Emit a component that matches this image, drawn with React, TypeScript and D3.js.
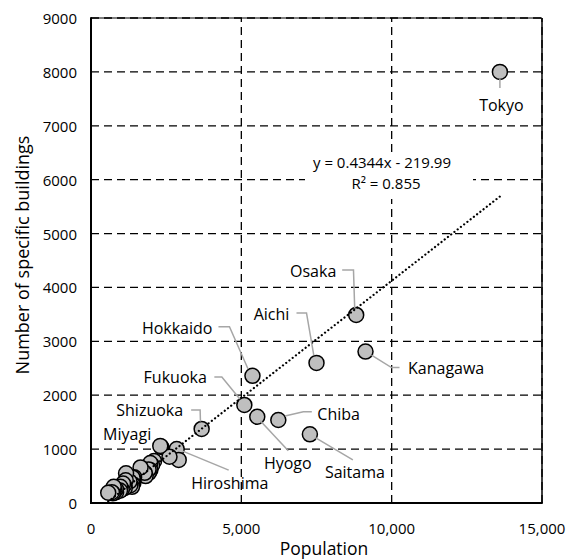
import React from "react";
import * as d3 from "d3";

// ---- data (population in thousands, number of specific buildings) ----
const names = [
  "Tokyo", "Osaka", "Aichi", "Kanagawa", "Hokkaido", "Fukuoka", "Hyogo", "Chiba", "Saitama", "Shizuoka", "Hiroshima", "Miyagi",
  "Ibaraki", "Kyoto", "Niigata", "Nagano", "Gifu", "Tochigi", "Gunma", "Okayama", "Fukushima", "Mie", "Kumamoto", "Kagoshima",
  "Okinawa", "Shiga", "Yamaguchi", "Ehime", "Nagasaki", "Nara", "Aomori", "Iwate", "Oita", "Ishikawa", "Yamagata", "Miyazaki",
  "Toyama", "Akita", "Kagawa", "Wakayama", "Yamanashi", "Saga", "Fukui", "Tokushima", "Kochi", "Shimane", "Tottori",
];
const population = [
  13600, 8820, 7500, 9130, 5370, 5100, 5530, 6230, 7280, 3680, 2850, 2334,
  2917, 2610, 2304, 2099, 2032, 1974, 1973, 1922, 1914, 1816, 1786, 1648,
  1434, 1413, 1405, 1385, 1377, 1364, 1308, 1280, 1166, 1154, 1124, 1104,
  1066, 1023, 976, 964, 835, 833, 787, 756, 728, 694, 573,
];
const buildings = [
  8000, 3490, 2600, 2810, 2360, 1820, 1600, 1540, 1275, 1375, 1000, 1040,
  800, 860, 1060, 780, 700, 740, 610, 560, 620, 500, 560, 660,
  480, 380, 430, 470, 350, 300, 330, 400, 550, 420, 280, 330,
  360, 250, 300, 230, 200, 260, 220, 300, 180, 200, 190,
];
const xTicks = [0, 5000, 10000, 15000];
const yTicks = [0, 1000, 2000, 3000, 4000, 5000, 6000, 7000, 8000, 9000];
const slope = 0.4344;
const intercept = -219.99;
const equationLines = ["y = 0.4344x - 219.99", "R² = 0.855"];
const xTitle = "Population";
const yTitle = "Number of specific buildings";

// ---- label layout (offsets from the point, in px) ----
type Lab = { name: string; anchor: "start" | "middle" | "end"; dx: number; dy: number; leader: [number, number][] };
const labelLayout: Lab[] = [
  { name: "Tokyo", anchor: "middle", dx: 1.5, dy: 33, leader: [[0, 7], [0, 16]] },
  { name: "Osaka", anchor: "middle", dx: -43, dy: -43.5, leader: [[-14, -45], [-2.7, -45], [-1.5, -7]] },
  { name: "Aichi", anchor: "middle", dx: -45, dy: -48.5, leader: [[-20, -50], [-10, -50], [-2.7, -7.5]] },
  { name: "Kanagawa", anchor: "start", dx: 42.5, dy: 16.5, leader: [[34, 16], [26, 16], [6, 3.5]] },
  { name: "Hokkaido", anchor: "end", dx: -40, dy: -48, leader: [[-34, -49], [-23, -49], [-4.5, -7]] },
  { name: "Fukuoka", anchor: "end", dx: -37.5, dy: -27.5, leader: [[-30, -28], [-22.5, -28], [-4.5, -6]] },
  { name: "Shizuoka", anchor: "end", dx: -18.5, dy: -19, leader: [[-10.5, -19], [-1.5, -19], [-1.2, -7.5]] },
  { name: "Miyagi", anchor: "end", dx: -10, dy: -13, leader: [] },
  { name: "Hiroshima", anchor: "start", dx: 14.5, dy: 34, leader: [[6, 2], [52, 21]] },
  { name: "Hyogo", anchor: "middle", dx: 30.5, dy: 46.5, leader: [[3, 4], [31, 34]] },
  { name: "Chiba", anchor: "start", dx: 39, dy: -6.5, leader: [[33.5, -8.3], [25, -8.3], [6.7, -4]] },
  { name: "Saitama", anchor: "start", dx: 15, dy: 38, leader: [[5, 3], [43, 25.5]] },
];

const W = 569;
const H = 560;
const FONT = "'Open Sans', sans-serif";

export default function App() {
  const x = d3.scaleLinear().domain([0, 15000]).range([91, 542]);
  const y = d3.scaleLinear().domain([0, 9000]).range([503, 18]);
  const fmt = d3.format(",");
  const pts = names.map((n, i) => ({ name: n, px: population[i], py: buildings[i] }));
  const [xmin, xmax] = d3.extent(population) as [number, number];
  const trend = d3.line<number>().x((v) => x(v)).y((v) => y(slope * v + intercept))([xmin, xmax]) || "";
  const lineGen = d3.line<[number, number]>();
  const x0 = x.range()[0], x1 = x.range()[1], y0 = y.range()[0], y1 = y.range()[1];

  return (
    <svg width={W} height={H} style={{ position: "absolute", left: 0, top: 0, background: "#fff" }} fontFamily={FONT}>
      <rect x={0} y={0} width={W} height={H} fill="#fff" />
      {/* gridlines */}
      {yTicks.map((t) => (
        <line key={"gy" + t} x1={x0} x2={x1} y1={y(t)} y2={y(t)} stroke="#000" strokeWidth={1.3} strokeDasharray="8,5" />
      ))}
      {xTicks.map((t) => (
        <line key={"gx" + t} x1={x(t)} x2={x(t)} y1={y0} y2={y1} stroke="#000" strokeWidth={1.3} strokeDasharray="8,5" />
      ))}
      {/* plot border */}
      <line x1={x0} x2={x1} y1={y1} y2={y1} stroke="#000" strokeWidth={1.2} />
      <line x1={x1} x2={x1} y1={y1} y2={y0} stroke="#000" strokeWidth={1.5} />
      <line x1={x0} x2={x0} y1={y1 - 0.75} y2={y0 + 1} stroke="#000" strokeWidth={2} />
      <line x1={x0 - 1} x2={x1 + 0.75} y1={y0} y2={y0} stroke="#000" strokeWidth={2} />

      {/* equation background */}
      <rect x={305} y={152} width={168} height={47} fill="#fff" />

      {/* points */}
      {pts.map((p) => (
        <circle key={p.name} cx={x(p.px)} cy={y(p.py)} r={7.5} fill="#bfbfbf" stroke="#000" strokeWidth={1.5} />
      ))}

      {/* trendline */}
      <path d={trend} fill="none" stroke="#000" strokeWidth={2.2} strokeDasharray="0.1,4" strokeLinecap="round" />

      {/* leader lines and labels */}
      {labelLayout.map((l) => {
        const p = pts.find((q) => q.name === l.name)!;
        const cx = x(p.px), cy = y(p.py);
        const d = l.leader.length ? lineGen(l.leader.map(([a, b]) => [cx + a, cy + b] as [number, number])) : null;
        return (
          <g key={"lab" + l.name}>
            {d && <path d={d} fill="none" stroke="#a6a6a6" strokeWidth={1.5} />}
            <text x={cx + l.dx} y={cy + l.dy} textAnchor={l.anchor} dominantBaseline="central" fontSize={16} fill="#000">
              {l.name}
            </text>
          </g>
        );
      })}

      {/* equation */}
      {equationLines.map((s, i) => (
        <text key={s} x={i === 0 ? 382 : 386} y={i === 0 ? 167.5 : 188.5} textAnchor="middle" fontSize={15} fill="#000">
          {s}
        </text>
      ))}

      {/* ticks */}
      {yTicks.map((t) => (
        <text key={"ty" + t} x={77} y={y(t)} textAnchor="end" dominantBaseline="central" fontSize={15} fill="#000">
          {String(t)}
        </text>
      ))}
      {xTicks.map((t) => (
        <text key={"tx" + t} x={x(t)} y={527.5} textAnchor="middle" dominantBaseline="central" fontSize={15} fill="#000">
          {fmt(t)}
        </text>
      ))}

      {/* axis titles */}
      <text x={324} y={555} textAnchor="middle" fontSize={17.5} fill="#000">
        {xTitle}
      </text>
      <text transform="translate(22,255) rotate(-90)" textAnchor="middle" dominantBaseline="central" fontSize={18} fill="#000">
        {yTitle}
      </text>
    </svg>
  );
}
